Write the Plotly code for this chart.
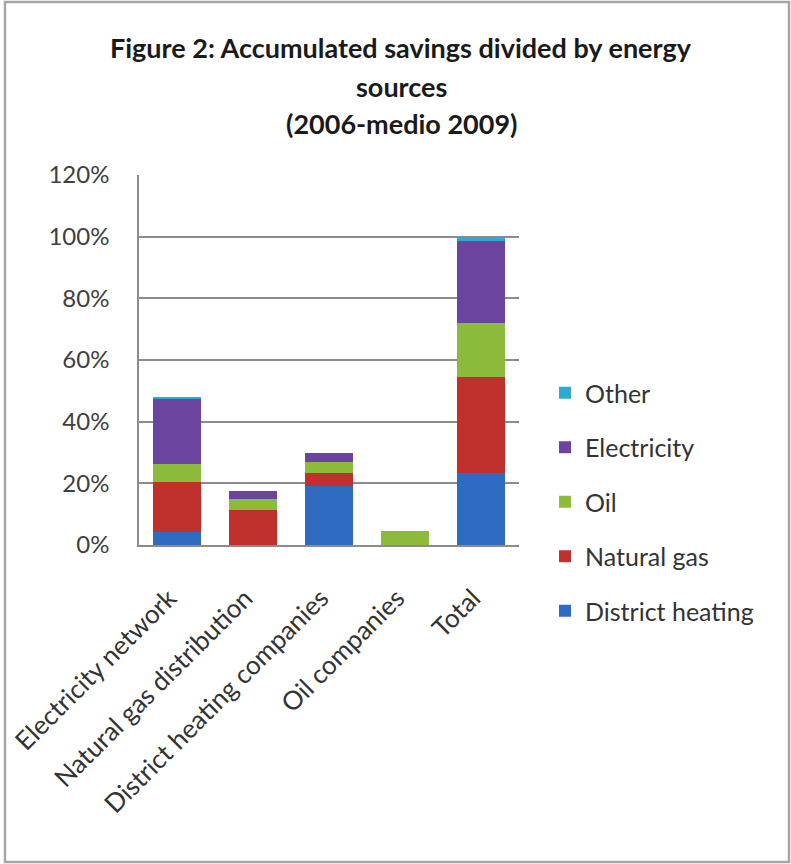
import plotly.graph_objects as go

# Savings share by energy source, per sector (percent of total accumulated savings)
categories = ["Electricity network", "Natural gas distribution",
              "District heating companies", "Oil companies", "Total"]
district_heating = [4.3, 0.0, 19.1, 0.0, 23.5]
natural_gas = [16.2, 11.3, 4.4, 0.0, 31.1]
oil = [5.8, 3.7, 3.5, 4.5, 17.5]
electricity = [21.0, 2.5, 2.7, 0.0, 26.6]
other = [0.7, 0.0, 0.0, 0.0, 1.3]

series = [
    ("District heating", district_heating, "#2f6bc1"),
    ("Natural gas", natural_gas, "#c0302d"),
    ("Oil", oil, "#8cbb3b"),
    ("Electricity", electricity, "#6a449e"),
    ("Other", other, "#2ea9cf"),
]

y_ticks = [0, 20, 40, 60, 80, 100, 120]
y_tick_text = [f"{v}%" for v in y_ticks]

title_lines = ["Figure 2: Accumulated savings divided by energy",
               "sources",
               "(2006-medio 2009)"]

FONT = "Lato, 'Open Sans', sans-serif"

fig = go.Figure()
n = len(series)
for i, (name, vals, color) in enumerate(series):
    fig.add_trace(go.Bar(
        name=name, x=categories, y=vals,
        marker=dict(color=color, line=dict(width=0)),
        legendgroup=name,
        legendrank=n - i,
    ))

W, H = 791, 864
L, R, T, B = 139, 272, 175, 319
pw, ph = W - L - R, H - T - B

def px_x(x):
    return (x - L) / pw

def px_y(y):
    return (H - B - y) / ph

# Title lines, spaced like the original chart heading
annotations = []
for line, yc in zip(title_lines, [48, 86, 123]):
    annotations.append(dict(
        text=f"<b>{line}</b>", showarrow=False,
        xref="paper", yref="paper",
        x=px_x(401), y=px_y(yc), xanchor="center", yanchor="middle",
        font=dict(family=FONT, size=27, color="#1a1a1a"),
    ))

fig.update_layout(
    width=W, height=H,
    margin=dict(l=L, r=R, t=T, b=B, autoexpand=False),
    barmode="stack",
    bargap=0.36,
    paper_bgcolor="white",
    plot_bgcolor="white",
    font=dict(family=FONT, size=24, color="#404040"),
    annotations=annotations,
    legend=dict(
        x=px_x(545), xanchor="left",
        y=px_y(370), yanchor="top",
        traceorder="grouped",
        tracegroupgap=19,
        font=dict(family=FONT, size=25, color="#333333"),
        itemwidth=30,
        bgcolor="rgba(0,0,0,0)",
    ),
    xaxis=dict(
        tickangle=-45,
        automargin=False,
        showline=True, linecolor="#8c8c8c", linewidth=1.5,
        showgrid=False,
        tickfont=dict(family=FONT, size=26, color="#333333"),
        ticks="",
        ticklabelstandoff=26,
        ticklabelshift=-8,
    ),
    yaxis=dict(
        range=[0, 120],
        automargin=False,
        tickvals=y_ticks, ticktext=y_tick_text,
        showgrid=True, gridcolor="#8c8c8c", gridwidth=1.5,
        showline=True, linecolor="#8c8c8c", linewidth=1.5,
        zeroline=False,
        ticks="", ticklabelstandoff=23,
        tickfont=dict(family=FONT, size=24, color="#404040"),
    ),
    shapes=[dict(
        type="rect", xref="paper", yref="paper",
        x0=px_x(5), x1=px_x(789), y0=px_y(862), y1=px_y(2),
        line=dict(color="#a6a6a6", width=2.5),
        fillcolor="rgba(0,0,0,0)", layer="below",
    )],
)

fig.write_html("out.html")
